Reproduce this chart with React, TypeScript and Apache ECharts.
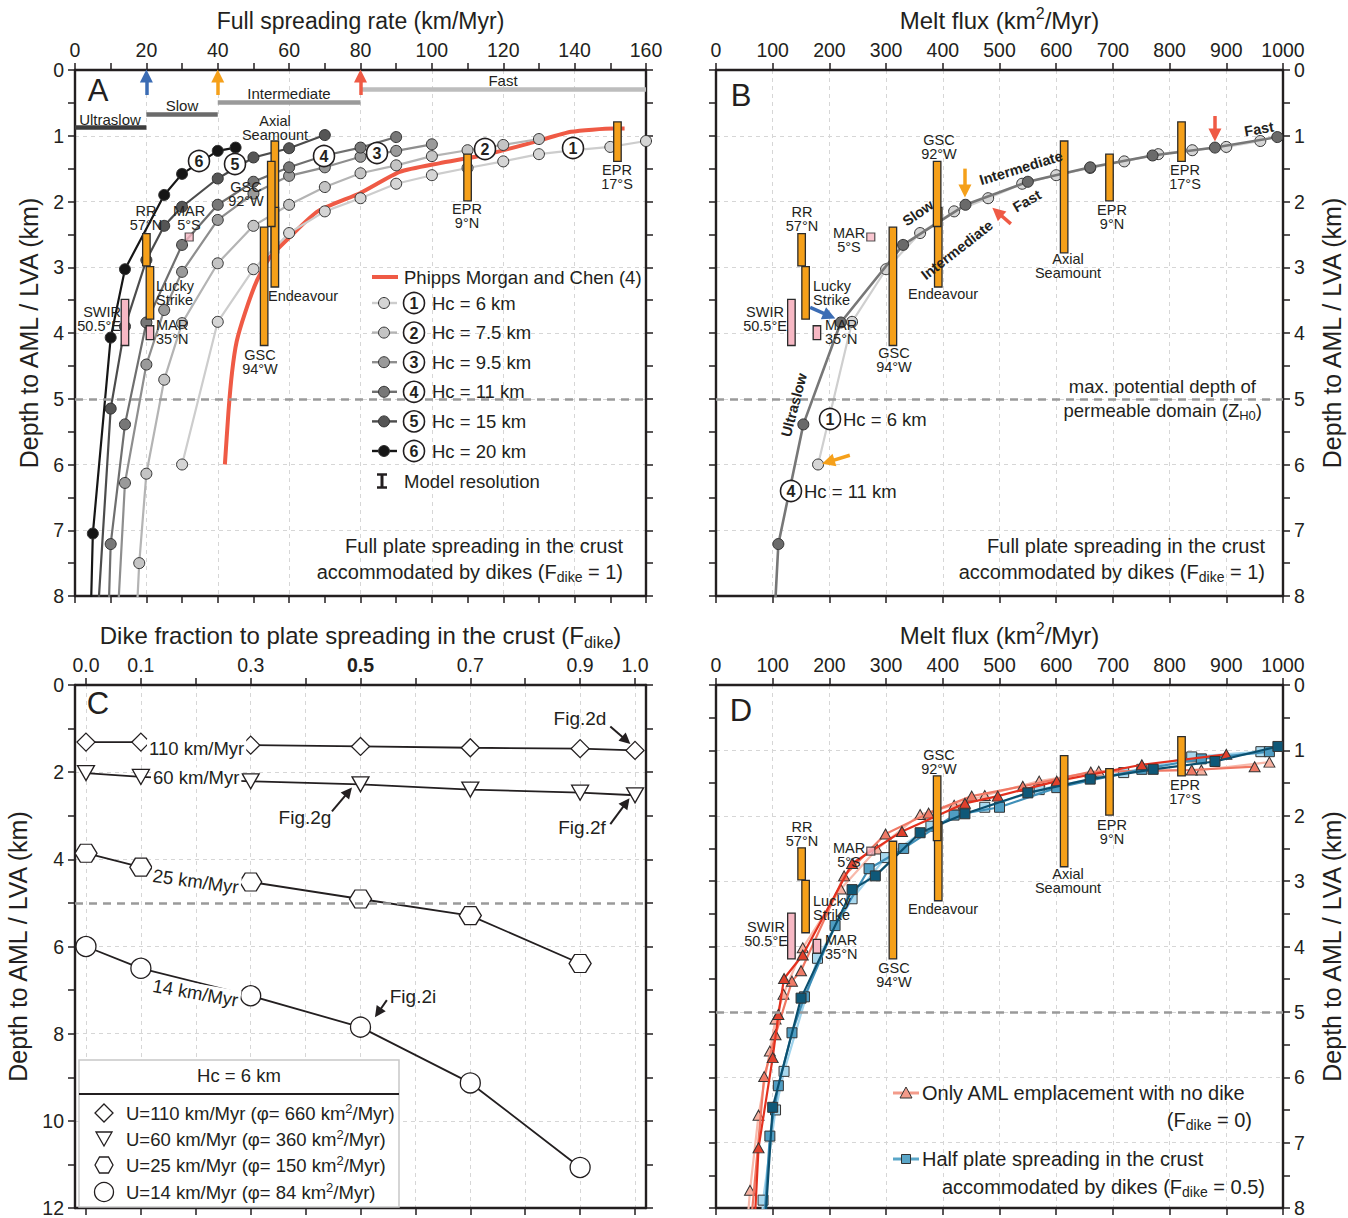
import { useEffect, useRef } from 'react';
import * as echarts from 'echarts';

const FONT = '"Liberation Sans", Arial, Helvetica, sans-serif';
const INK = '#231f20';

// ---------- Panels A / B: modelled AML depth (km) vs full spreading rate (km/Myr), one run set per Hc ----------
const rateHc6 = [30, 40, 50, 60, 70, 80, 90, 100, 110, 120, 130, 140, 150, 160];
const depthHc6 = [6.0, 3.83, 3.03, 2.48, 2.15, 1.95, 1.73, 1.6, 1.49, 1.39, 1.28, 1.22, 1.17, 1.08];
const rateHc75 = [17, 18, 20, 25, 30, 40, 50, 60, 70, 80, 90, 100, 110, 120, 130];
const depthHc75 = [8.6, 7.5, 6.14, 4.71, 3.85, 2.94, 2.37, 2.05, 1.78, 1.57, 1.45, 1.31, 1.22, 1.14, 1.05];
const rateHc95 = [11, 14, 20, 25, 30, 40, 50, 60, 70, 80, 90, 100];
const depthHc95 = [9.3, 6.28, 4.48, 3.65, 3.07, 2.28, 1.88, 1.61, 1.48, 1.32, 1.23, 1.13];
const rateHc11 = [9, 10, 14, 20, 30, 40, 50, 60, 70, 80, 90];
const depthHc11 = [9.0, 7.21, 5.39, 3.84, 2.66, 2.05, 1.7, 1.48, 1.3, 1.18, 1.02];
const rateHc15 = [5, 10, 14, 20, 25, 30, 40, 50, 60, 70];
const depthHc15 = [9.5, 5.15, 3.9, 2.89, 2.37, 2.08, 1.65, 1.33, 1.19, 0.99];
const rateHc20 = [4, 5, 10, 14, 25, 30, 40, 45];
const depthHc20 = [9.2, 7.05, 4.07, 3.03, 1.9, 1.58, 1.23, 1.18];

// Phipps Morgan and Chen (4)
const pmcRate = [42, 43, 44, 45.3, 47.6, 51, 54.6, 60, 68, 80, 91, 102, 115, 129, 139, 151, 154];
const pmcDepth = [6.0, 5.2, 4.6, 4.13, 3.7, 3.2, 2.85, 2.55, 2.15, 1.87, 1.55, 1.42, 1.29, 1.09, 0.94, 0.89, 0.89];

// spreading-rate regimes (km/Myr)
const regimeNames = ['Ultraslow', 'Slow', 'Intermediate', 'Fast'];
const regimeBounds = [0, 20, 40, 80, 160];

// observed AML depth ranges (orange bars)
const amlSites = ['RR 57°N', 'Lucky Strike', 'GSC 94°W', 'Axial Seamount', 'Endeavour', 'GSC 92°W', 'EPR 9°N', 'EPR 17°S'];
const amlRate = [20, 21, 53, 56, 56, 55, 110, 152];
const amlFlux = [151, 158, 312, 614, 392, 390, 694, 821];
const amlTop = [2.49, 2.99, 2.39, 1.08, 2.09, 1.39, 1.28, 0.79];
const amlBottom = [2.98, 3.79, 4.19, 2.78, 3.3, 2.38, 1.99, 1.39];
// observed LVA depth ranges (pink bars)
const lvaSites = ['SWIR 50.5°E', 'MAR 35°N'];
const lvaRate = [14, 21];
const lvaFlux = [133, 178];
const lvaTop = [3.49, 3.89];
const lvaBottom = [4.19, 4.1];
// MAR 5°S single LVA depth
const mar5sRate = [32];
const mar5sFlux = [273];
const mar5sDepth = [2.54];

// ---------- Panel C: AML depth vs dike fraction (Hc = 6 km) ----------
const dikeFraction = [0, 0.1, 0.3, 0.5, 0.7, 0.9, 1.0];
const dikeTicks = [0, 0.1, 0.2, 0.3, 0.4, 0.5, 0.6, 0.7, 0.8, 0.9, 1.0];
const depthU110 = [1.31, 1.31, 1.38, 1.41, 1.44, 1.46, 1.5];
const depthU60 = [2.02, 2.11, 2.21, 2.28, 2.4, 2.47, 2.53];
const depthU25 = [3.86, 4.18, 4.52, 4.91, 5.29, 6.39];
const depthU14 = [6.0, 6.5, 7.13, 7.85, 9.13, 11.07];

// ---------- Panel D: melt flux (km2/Myr) vs depth, Fdike = 0 (red) and Fdike = 0.5 (blue) ----------
const fluxRedLight = [52, 60, 75, 95, 105, 119, 153, 220, 284, 360, 420, 474, 570, 675, 856, 976];
const depthRedLight = [8.6, 7.73, 6.58, 5.6, 5.11, 4.73, 4.02, 3.12, 2.51, 1.98, 1.84, 1.69, 1.47, 1.32, 1.3, 1.18];
const fluxRedMid = [58, 85, 105, 134, 150, 226, 299, 375, 451, 541, 661, 839, 950];
const depthRedMid = [8.6, 5.99, 5.35, 4.53, 4.37, 2.92, 2.28, 1.96, 1.7, 1.55, 1.33, 1.3, 1.25];
const fluxRedDark = [66, 75, 100, 110, 120, 153, 240, 328, 439, 497, 601, 751, 900];
const depthRedDark = [8.6, 7.08, 5.7, 5.04, 4.49, 4.13, 2.73, 2.24, 1.81, 1.7, 1.47, 1.22, 1.06];
const fluxBlueLight = [80, 83, 105, 120, 179, 240, 299, 379, 474, 570, 719, 839, 961];
const depthBlueLight = [8.4, 7.88, 6.5, 5.91, 4.18, 3.27, 2.64, 2.16, 1.87, 1.6, 1.34, 1.1, 1.02];
const fluxBlueMid = [82, 95, 110, 134, 156, 210, 270, 331, 420, 500, 601, 751, 856, 976];
const depthBlueMid = [8.6, 6.9, 6.13, 5.32, 4.77, 3.68, 2.81, 2.5, 1.99, 1.87, 1.57, 1.29, 1.13, 1.02];
const fluxBlueDark = [84, 100, 150, 240, 281, 360, 439, 550, 660, 771, 880, 991];
const depthBlueDark = [8.6, 6.46, 4.79, 3.13, 2.92, 2.26, 1.97, 1.65, 1.44, 1.29, 1.17, 0.94];

// ---------- styling ----------
const hcCurves = [
  { hc: 6, rate: rateHc6, depth: depthHc6, line: '#cdcdcd', fill: '#d5d5d5' },
  { hc: 7.5, rate: rateHc75, depth: depthHc75, line: '#b4b4b4', fill: '#c4c4c4' },
  { hc: 9.5, rate: rateHc95, depth: depthHc95, line: '#8e8e8e', fill: '#9a9a9a' },
  { hc: 11, rate: rateHc11, depth: depthHc11, line: '#6f6f6f', fill: '#777777' },
  { hc: 15, rate: rateHc15, depth: depthHc15, line: '#4c4c4c', fill: '#555555' },
  { hc: 20, rate: rateHc20, depth: depthHc20, line: '#161616', fill: '#161616' },
];

const GRIDS = [
  { left: 75, top: 70, width: 571, height: 526 },
  { left: 716, top: 70, width: 571, height: 526 },
  { left: 75, top: 685, width: 571, height: 526 },
  { left: 716, top: 685, width: 571, height: 526 },
];

const AXIS_LINE = { show: true, onZero: false, lineStyle: { color: INK, width: 2.4 } };
const TICK = { show: true, inside: false, length: 7, lineStyle: { color: INK, width: 1.5 } };
const MINOR = { show: true, length: 7, lineStyle: { color: INK, width: 1.5 } };
const LABEL = { fontFamily: FONT, fontSize: 19.5, color: INK };
const GRIDLINE = { show: true, lineStyle: { color: '#d6d6d6', width: 1, type: [4, 4] } };
const nameStyle = (size: number) => ({
  fontFamily: FONT, fontSize: size, color: INK, lineHeight: Math.round(size * 1.25),
  rich: {
    p: { fontFamily: FONT, fontSize: Math.round(size * 0.66), color: INK, lineHeight: Math.round(size * 0.66), verticalAlign: 'top' },
    s: { fontFamily: FONT, fontSize: Math.round(size * 0.66), color: INK, lineHeight: Math.round(size * 0.66), verticalAlign: 'bottom' },
  },
});

const zip = (xs: number[], ys: number[]) => ys.map((y, i) => [xs[i], y]);

function mkX(gi: number, o: any) {
  const common: any = {
    gridIndex: gi, type: 'value', min: o.min, max: o.max, axisLine: AXIS_LINE,
    axisTick: o.ticks ? { ...TICK, customValues: o.ticks } : TICK,
    minorTick: o.minor ? { ...MINOR, splitNumber: o.minor } : { show: false },
    minorSplitLine: { show: false },
  };
  if (o.interval) common.interval = o.interval;
  const label: any = { ...LABEL, margin: 10, formatter: o.fmt || ((v: number) => String(v)) };
  if (o.labels) label.customValues = o.labels;
  if (o.rich) label.rich = o.rich;
  return [
    { ...common, position: 'top', axisLabel: label, splitLine: GRIDLINE, name: o.name, nameLocation: 'middle', nameGap: o.nameGap, nameTextStyle: nameStyle(o.nameSize) },
    { ...common, position: 'bottom', axisLabel: { show: false }, splitLine: { show: false } },
  ];
}

function mkY(gi: number, o: any) {
  const common: any = {
    gridIndex: gi, type: 'value', inverse: true, min: 0, max: o.max, interval: o.interval, axisLine: AXIS_LINE,
    axisTick: TICK, minorTick: { ...MINOR, splitNumber: 2 }, minorSplitLine: { show: false },
  };
  const named = {
    axisLabel: { ...LABEL, margin: 11 }, name: 'Depth to AML / LVA (km)', nameLocation: 'middle',
    nameGap: o.nameGap, nameTextStyle: nameStyle(25),
  };
  const plain = { axisLabel: { show: false } };
  return [
    { ...common, position: 'left', splitLine: GRIDLINE, ...(o.side === 'left' ? named : plain) },
    { ...common, position: 'right', splitLine: { show: false }, ...(o.side === 'right' ? named : plain) },
  ];
}

const onGrid = (gi: number) => ({ xAxisIndex: gi * 2, yAxisIndex: gi * 2 });

function curveSeries(gi: number, data: number[][], line: string, fill: string, z: number, extra: any = {}) {
  return {
    type: 'line', ...onGrid(gi), data, z, silent: true, clip: true,
    symbol: 'circle', symbolSize: 11, showSymbol: true,
    lineStyle: { color: line, width: 2.2 },
    itemStyle: { color: fill, borderColor: '#333', borderWidth: 1 },
    ...extra,
  };
}

function rangeBars(gi: number, xs: number[], tops: number[], bottoms: number[], fill: string, z: number) {
  return {
    type: 'custom', ...onGrid(gi), z, silent: true, clip: false,
    data: xs.map((x, i) => [x, tops[i], bottoms[i]]),
    encode: { x: 0, y: [1, 2] },
    renderItem: (_p: any, api: any) => {
      const a = api.coord([api.value(0), api.value(1)]);
      const b = api.coord([api.value(0), api.value(2)]);
      return {
        type: 'rect',
        shape: { x: a[0] - 3.75, y: a[1], width: 7.5, height: b[1] - a[1] },
        style: { fill, stroke: '#2b2b2b', lineWidth: 1.3 },
      };
    },
  };
}

function squareSeries(gi: number, xs: number[], ys: number[]) {
  return {
    type: 'scatter', ...onGrid(gi), z: 5, silent: true, data: zip(xs, ys),
    symbol: 'rect', symbolSize: 8,
    itemStyle: { color: '#f7b8c4', borderColor: '#2b2b2b', borderWidth: 1.2 },
  };
}

function markSeries(gi: number, lines: any[], z: number) {
  return {
    type: 'line', ...onGrid(gi), data: [], z, silent: true,
    markLine: { silent: true, animation: false, symbol: ['none', 'none'], label: { show: false }, data: lines },
  };
}

const dashed5 = { yAxis: 5, lineStyle: { color: '#9a9a9a', width: 2.5, type: [8, 6] } };

function arrow(from: number[], to: number[], color: string, width = 3.5, head = 13) {
  return [
    { coord: from, symbol: 'none' },
    { coord: to, symbol: 'triangle', symbolSize: [head, head], lineStyle: { color, width, type: 'solid' }, itemStyle: { color } },
  ];
}

// ---------- graphic helpers (annotation text) ----------
const SUBSUP = (size: number) => ({
  s: { fontFamily: FONT, fontSize: Math.round(size * 0.72), fill: INK, lineHeight: Math.round(size * 0.72), verticalAlign: 'bottom' },
  p: { fontFamily: FONT, fontSize: Math.round(size * 0.72), fill: INK, lineHeight: Math.round(size * 0.72), verticalAlign: 'top' },
});

function txt(x: number, y: number, text: string, o: any = {}) {
  const size = o.size || 14.5;
  const style: any = {
    text, fill: o.color || INK, fontFamily: FONT, fontSize: size, fontWeight: o.bold ? 'bold' : 'normal',
    align: o.align || 'center', verticalAlign: 'middle', lineHeight: o.lh || Math.round(size * 1.0),
    rich: SUBSUP(size),
  };
  if (o.bg) {
    style.backgroundColor = '#fff';
    style.padding = [0, 2, 0, 2];
  }
  return { type: 'text', x, y, z: 52, silent: true, rotation: ((o.rot || 0) * Math.PI) / 180, style };
}

function ring(cx: number, cy: number, n: string) {
  return [
    { type: 'circle', z: 50, silent: true, shape: { cx, cy, r: 10.5 }, style: { fill: '#fff', stroke: INK, lineWidth: 1.6 } },
    txt(cx, cy + 0.5, n, { size: 16, bold: true }),
  ];
}

function seg(x1: number, y1: number, x2: number, y2: number, stroke: string, lineWidth: number) {
  return { type: 'line', z: 50, silent: true, shape: { x1, y1, x2, y2 }, style: { stroke, lineWidth } };
}

function poly(points: number[][], fill: string, stroke = INK, lineWidth = 1.3) {
  return { type: 'polygon', z: 50, silent: true, shape: { points }, style: { fill, stroke, lineWidth } };
}

const ML = 14.5; // line spacing of two-line site labels

function buildGraphic() {
  const g: any[] = [];
  // panel letters
  g.push(txt(98, 90, 'A', { size: 31 }), txt(741, 95, 'B', { size: 31 }), txt(98, 703, 'C', { size: 31 }), txt(741, 710, 'D', { size: 31 }));

  // ---- A ----
  const regimeLabelY = [119, 105, 93, 80];
  const regimeLabelX = [110, 182, 289, 503];
  regimeNames.forEach((n, i) => g.push(txt(regimeLabelX[i], regimeLabelY[i], n, { size: 15 })));
  g.push(
    txt(275, 128, 'Axial\nSeamount', { lh: ML }),
    txt(246, 194, 'GSC\n92°W', { lh: ML }),
    txt(146, 218, 'RR\n57°N', { lh: ML }),
    txt(189, 218, 'MAR\n5°S', { lh: ML }),
    txt(156, 293, 'Lucky\nStrike', { lh: ML, align: 'left' }),
    txt(121, 319, 'SWIR\n50.5°E', { lh: ML, align: 'right' }),
    txt(156, 332, 'MAR\n35°N', { lh: ML, align: 'left' }),
    txt(268, 296, 'Endeavour', { align: 'left' }),
    txt(260, 362, 'GSC\n94°W', { lh: ML }),
    txt(467, 216, 'EPR\n9°N', { lh: ML }),
    txt(617, 177, 'EPR\n17°S', { lh: ML }),
  );
  const ringPos = [[573, 148], [485, 149], [377, 153], [324, 156], [235, 164], [199, 161]];
  ringPos.forEach((p, i) => g.push(...ring(p[0], p[1], String(i + 1))));
  // legend A
  g.push(seg(372, 277, 398, 277, '#ef5a45', 4), txt(404, 277, 'Phipps Morgan and Chen (4)', { size: 18.5, align: 'left' }));
  hcCurves.forEach((c, i) => {
    const y = 303 + i * 29.6;
    g.push(
      seg(372, y, 397, y, c.line, 2.4),
      { type: 'circle', z: 51, silent: true, shape: { cx: 384, cy: y, r: 5.5 }, style: { fill: c.fill, stroke: '#333', lineWidth: 1 } },
      ...ring(414, y, String(i + 1)),
      txt(432, y, `Hc = ${c.hc} km`, { size: 18.5, align: 'left' }),
    );
  });
  g.push(
    seg(382, 474, 382, 488, INK, 3), seg(377, 474.5, 387, 474.5, INK, 2.5), seg(377, 487.5, 387, 487.5, INK, 2.5),
    txt(404, 481, 'Model resolution', { size: 18.5, align: 'left' }),
    txt(623, 546, 'Full plate spreading in the crust', { size: 20, align: 'right' }),
    txt(623, 572, 'accommodated by dikes (F{s|dike} = 1)', { size: 20, align: 'right', lh: 24 }),
  );

  // ---- B ----
  g.push(
    txt(939, 147, 'GSC\n92°W', { lh: ML }),
    txt(802, 219, 'RR\n57°N', { lh: ML }),
    txt(849, 240, 'MAR\n5°S', { lh: ML }),
    txt(813, 293, 'Lucky\nStrike', { lh: ML, align: 'left' }),
    txt(765, 319, 'SWIR\n50.5°E', { lh: ML }),
    txt(825, 332, 'MAR\n35°N', { lh: ML, align: 'left' }),
    txt(908, 294, 'Endeavour', { align: 'left' }),
    txt(894, 360, 'GSC\n94°W', { lh: ML }),
    txt(1068, 266, 'Axial\nSeamount', { lh: ML }),
    txt(1112, 217, 'EPR\n9°N', { lh: ML }),
    txt(1185, 177, 'EPR\n17°S', { lh: ML }),
    txt(918, 213, 'Slow', { bold: true, rot: 35 }),
    txt(1021, 168, 'Intermediate', { bold: true, rot: 17 }),
    txt(957, 250, 'Intermediate', { bold: true, rot: 38 }),
    txt(1027, 201, 'Fast', { bold: true, rot: 30 }),
    txt(1259, 129, 'Fast', { bold: true, rot: 10 }),
    txt(794, 405, 'Ultraslow', { bold: true, rot: 75 }),
    ...ring(830, 419, '1'), txt(843, 419, 'Hc = 6 km', { size: 18.5, align: 'left' }),
    ...ring(791, 491, '4'), txt(804, 491, 'Hc = 11 km', { size: 18.5, align: 'left' }),
    txt(1256, 386, 'max. potential depth of', { size: 18.5, align: 'right' }),
    txt(1262, 410, 'permeable domain (Z{s|H0})', { size: 18.5, align: 'right', lh: 23 }),
    txt(1265, 546, 'Full plate spreading in the crust', { size: 20, align: 'right' }),
    txt(1265, 572, 'accommodated by dikes (F{s|dike} = 1)', { size: 20, align: 'right', lh: 24 }),
  );

  // ---- C ----
  g.push(
    txt(147, 748, '110 km/Myr', { size: 18.5, align: 'left', bg: true }),
    txt(151, 777, '60 km/Myr', { size: 18.5, align: 'left', bg: true }),
    txt(151, 875, '25 km/Myr', { size: 18.5, align: 'left', rot: -8, bg: true }),
    txt(151, 985, '14 km/Myr', { size: 18.5, align: 'left', rot: -10, bg: true }),
    txt(580, 718, 'Fig.2d', { size: 19 }),
    txt(305, 817, 'Fig.2g', { size: 19 }),
    txt(582, 827, 'Fig.2f', { size: 19 }),
    txt(413, 996, 'Fig.2i', { size: 19 }),
  );
  g.push(
    { type: 'rect', z: 49, silent: true, shape: { x: 79, y: 1060, width: 320, height: 147 }, style: { fill: '#fff', stroke: '#c8c8c8', lineWidth: 1.5 } },
    txt(239, 1075, 'Hc = 6 km', { size: 18.5 }),
    seg(79, 1094, 399, 1094, INK, 2),
    poly([[104, 1104], [113, 1113], [104, 1122], [95, 1113]], '#fff'),
    poly([[96, 1132], [112, 1132], [104, 1146]], '#fff'),
    poly([[95, 1165], [99.5, 1157], [108.5, 1157], [113, 1165], [108.5, 1173], [99.5, 1173]], '#fff'),
    { type: 'circle', z: 50, silent: true, shape: { cx: 104, cy: 1192, r: 9.5 }, style: { fill: '#fff', stroke: INK, lineWidth: 1.3 } },
    txt(126, 1113, 'U=110 km/Myr (φ= 660 km{p|2}/Myr)', { size: 18.5, align: 'left', lh: 23 }),
    txt(126, 1139, 'U=60 km/Myr (φ= 360 km{p|2}/Myr)', { size: 18.5, align: 'left', lh: 23 }),
    txt(126, 1165, 'U=25 km/Myr (φ= 150 km{p|2}/Myr)', { size: 18.5, align: 'left', lh: 23 }),
    txt(126, 1192, 'U=14 km/Myr (φ= 84 km{p|2}/Myr)', { size: 18.5, align: 'left', lh: 23 }),
  );

  // ---- D ----
  g.push(
    txt(939, 762, 'GSC\n92°W', { lh: ML }),
    txt(802, 834, 'RR\n57°N', { lh: ML }),
    txt(849, 855, 'MAR\n5°S', { lh: ML }),
    txt(813, 908, 'Lucky\nStrike', { lh: ML, align: 'left' }),
    txt(766, 934, 'SWIR\n50.5°E', { lh: ML }),
    txt(825, 947, 'MAR\n35°N', { lh: ML, align: 'left' }),
    txt(908, 909, 'Endeavour', { align: 'left' }),
    txt(894, 975, 'GSC\n94°W', { lh: ML }),
    txt(1068, 881, 'Axial\nSeamount', { lh: ML }),
    txt(1112, 832, 'EPR\n9°N', { lh: ML }),
    txt(1185, 792, 'EPR\n17°S', { lh: ML }),
    seg(893, 1093, 919, 1093, '#f39b8a', 3),
    poly([[906, 1087], [912, 1098], [900, 1098]], '#f39b8a', '#333', 1),
    txt(922, 1093, 'Only AML emplacement with no dike', { size: 20, align: 'left' }),
    txt(1252, 1120, '(F{s|dike} = 0)', { size: 20, align: 'right', lh: 24 }),
    seg(893, 1159, 919, 1159, '#5aa6c8', 3),
    { type: 'rect', z: 51, silent: true, shape: { x: 901.5, y: 1154.5, width: 9, height: 9 }, style: { fill: '#5aa6c8', stroke: '#333', lineWidth: 1 } },
    txt(922, 1159, 'Half plate spreading in the crust', { size: 20, align: 'left' }),
    txt(1265, 1187, 'accommodated by dikes (F{s|dike} = 0.5)', { size: 20, align: 'right', lh: 24 }),
  );
  return g;
}

function buildOption() {
  const xAxis = [
    ...mkX(0, { min: 0, max: 160, interval: 20, minor: 2, name: 'Full spreading rate (km/Myr)', nameSize: 23, nameGap: 35 }),
    ...mkX(1, { min: 0, max: 1000, interval: 100, name: 'Melt flux (km{p|2}/Myr)', nameSize: 24, nameGap: 35 }),
    ...mkX(2, {
      min: -0.02, max: 1.02, ticks: dikeTicks, labels: dikeFraction,
      fmt: (v: number) => (Math.abs(v - 0.5) < 1e-9 ? '{b|0.5}' : v.toFixed(1)),
      rich: { b: { fontFamily: FONT, fontSize: 19.5, fontWeight: 'bold', color: INK } },
      name: 'Dike fraction to plate spreading in the crust (F{s|dike})', nameSize: 24, nameGap: 35,
    }),
    ...mkX(3, { min: 0, max: 1000, interval: 100, name: 'Melt flux (km{p|2}/Myr)', nameSize: 24, nameGap: 35 }),
  ];
  const yAxis = [
    ...mkY(0, { max: 8, interval: 1, side: 'left', nameGap: 31 }),
    ...mkY(1, { max: 8, interval: 1, side: 'right', nameGap: 33 }),
    ...mkY(2, { max: 12, interval: 2, side: 'left', nameGap: 42 }),
    ...mkY(3, { max: 8, interval: 1, side: 'right', nameGap: 33 }),
  ];

  const series: any[] = [];

  // ---- A ----
  const regimeY = [0.87, 0.67, 0.49, 0.29];
  const regimeColor = ['#3d3d3d', '#6b6b6b', '#9a9a9a', '#bdbdbd'];
  series.push(markSeries(0, [dashed5], 1));
  series.push({ type: 'line', ...onGrid(0), data: zip(pmcRate, pmcDepth), z: 2, silent: true, symbol: 'none', smooth: 0.2, lineStyle: { color: '#ef5a45', width: 4 } });
  hcCurves.forEach((c, i) => series.push(curveSeries(0, zip(c.rate, c.depth), c.line, c.fill, 3 + i * 0.01)));
  series.push(rangeBars(0, lvaRate, lvaTop, lvaBottom, '#f7b8c4', 5));
  series.push(rangeBars(0, amlRate, amlTop, amlBottom, '#f5a01a', 5));
  series.push(squareSeries(0, mar5sRate, mar5sDepth));
  series.push(markSeries(0, [
    ...regimeNames.map((_, i) => [
      { coord: [regimeBounds[i], regimeY[i]], symbol: 'none' },
      { coord: [regimeBounds[i + 1], regimeY[i]], symbol: 'none', lineStyle: { color: regimeColor[i], width: 4.5, type: 'solid' } },
    ]),
    arrow([20, 0.38], [20, 0.09], '#3b6cb4'),
    arrow([40, 0.38], [40, 0.09], '#f5a01a'),
    arrow([80, 0.38], [80, 0.09], '#ef5a45'),
  ], 6));

  // ---- B ---- (melt flux = Hc x U)
  const c1 = hcCurves[0];
  const c4 = hcCurves[3];
  series.push(markSeries(1, [dashed5], 1));
  series.push(curveSeries(1, zip(c1.rate.map((u) => u * c1.hc), c1.depth), '#cfcfcf', '#d5d5d5', 3));
  series.push(curveSeries(1, zip(c4.rate.map((u) => u * c4.hc), c4.depth), '#777777', '#6a6a6a', 3.1, { lineStyle: { color: '#777777', width: 2.6 } }));
  series.push(rangeBars(1, lvaFlux, lvaTop, lvaBottom, '#f7b8c4', 5));
  series.push(rangeBars(1, amlFlux, amlTop, amlBottom, '#f5a01a', 5));
  series.push(squareSeries(1, mar5sFlux, mar5sDepth));
  series.push(markSeries(1, [
    arrow([439, 1.5], [439, 1.84], '#f5a01a'),
    arrow([880, 0.7], [880, 0.99], '#ef5a45'),
    arrow([520, 2.34], [496, 2.16], '#ef5a45'),
    arrow([166, 3.61], [200, 3.74], '#3b6cb4'),
    arrow([236, 5.86], [198, 5.96], '#f5a01a'),
  ], 6));

  // ---- C ----
  const openItem = { color: '#fff', borderColor: INK, borderWidth: 1.3 };
  const cLine = { color: INK, width: 1.8 };
  series.push(markSeries(2, [dashed5], 1));
  series.push({ type: 'line', ...onGrid(2), z: 3, silent: true, data: zip(dikeFraction, depthU110), symbol: 'diamond', symbolSize: [18, 18], itemStyle: openItem, lineStyle: cLine });
  series.push({ type: 'line', ...onGrid(2), z: 3, silent: true, data: zip(dikeFraction, depthU60), symbol: 'triangle', symbolRotate: 180, symbolSize: [17, 15], itemStyle: openItem, lineStyle: cLine });
  series.push({ type: 'line', ...onGrid(2), z: 3, silent: true, data: zip(dikeFraction, depthU25), symbol: 'path://M0,5L3,0L9,0L12,5L9,10L3,10Z', symbolSize: [22, 18], symbolKeepAspect: false, itemStyle: openItem, lineStyle: cLine });
  series.push({ type: 'line', ...onGrid(2), z: 3, silent: true, data: zip(dikeFraction, depthU14), symbol: 'circle', symbolSize: 20, itemStyle: openItem, lineStyle: cLine });
  series.push(markSeries(2, [
    arrow([0.955, 0.95], [0.984, 1.27], INK, 2, 11),
    arrow([0.448, 2.9], [0.478, 2.45], INK, 2, 11),
    arrow([0.955, 3.19], [0.984, 2.7], INK, 2, 11),
    arrow([0.548, 7.23], [0.532, 7.52], INK, 2, 11),
  ], 6));

  // ---- D ----
  series.push(markSeries(3, [dashed5], 1));
  const dRuns = [
    { f: fluxRedLight, d: depthRedLight, line: '#f8b9ab', fill: '#f6b0a0', sym: 'triangle' },
    { f: fluxBlueLight, d: depthBlueLight, line: '#9fd3ec', fill: '#a8d8ee', sym: 'rect' },
    { f: fluxRedMid, d: depthRedMid, line: '#f07864', fill: '#ef7a66', sym: 'triangle' },
    { f: fluxBlueMid, d: depthBlueMid, line: '#3f8fb8', fill: '#4f9dc3', sym: 'rect' },
    { f: fluxRedDark, d: depthRedDark, line: '#e3301e', fill: '#e0402c', sym: 'triangle' },
    { f: fluxBlueDark, d: depthBlueDark, line: '#0b4f6e', fill: '#0f5878', sym: 'rect' },
  ];
  dRuns.forEach((r, i) => series.push({
    type: 'line', ...onGrid(3), z: 3 + i * 0.01, silent: true, clip: true, data: zip(r.f, r.d),
    symbol: r.sym, symbolSize: r.sym === 'rect' ? 10 : [11, 10],
    lineStyle: { color: r.line, width: 2.2 },
    itemStyle: { color: r.fill, borderColor: '#333', borderWidth: 1 },
  }));
  series.push(rangeBars(3, lvaFlux, lvaTop, lvaBottom, '#f7b8c4', 5));
  series.push(rangeBars(3, amlFlux, amlTop, amlBottom, '#f5a01a', 5));
  series.push(squareSeries(3, mar5sFlux, mar5sDepth));

  return {
    animation: false,
    backgroundColor: '#ffffff',
    textStyle: { fontFamily: FONT },
    grid: GRIDS.map((g) => ({ ...g, containLabel: false })),
    xAxis,
    yAxis,
    series,
    graphic: { elements: buildGraphic() },
  };
}

export default function App() {
  const ref = useRef<HTMLDivElement>(null);
  useEffect(() => {
    const chart = echarts.init(ref.current as HTMLDivElement, null, { renderer: 'svg' });
    chart.setOption(buildOption() as any);
    return () => chart.dispose();
  }, []);
  return (
    <div
      ref={ref}
      style={{ position: 'fixed', left: 0, top: 0, width: 1348, height: 1218, background: '#fff' }}
    />
  );
}
